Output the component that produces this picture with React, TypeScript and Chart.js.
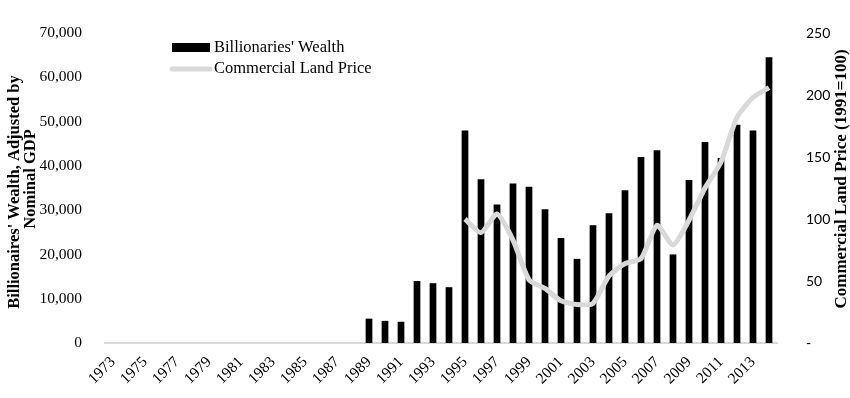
import React, { useEffect, useRef } from "react";
import { Chart, registerables } from "chart.js";

Chart.register(...registerables);

const years: string[] = [];
for (let y = 1973; y <= 2014; y++) years.push(String(y));

// Billionaires' wealth (adjusted by nominal GDP), 1973-2014
const wealth: (number | null)[] = [
  0, 0, 0, 0, 0, 0, 0, 0, 0, 0, 0, 0, 0, 0, 0, 0,
  5500, 5000, 4800, 14000, 13500, 12600,
  48000, 37000, 31300, 36000, 35300, 30200, 23700, 19000, 26600, 29300,
  34500, 42000, 43500, 20000, 36800, 45400, 41800, 49300, 48000, 64500,
];

// Commercial land price (1991 = 100), 1995-2014
const landPrice: (number | null)[] = [
  null, null, null, null, null, null, null, null, null, null, null,
  null, null, null, null, null, null, null, null, null, null, null,
  100, 89, 104, 83, 51, 44, 34, 31, 32, 54,
  64, 68, 95, 79, 99, 125, 146, 182, 198, 206,
];

const leftTitle = ["Billionaires' Wealth, Adjusted by", "Nominal GDP"];
const rightTitle = "Commercial Land Price (1991=100)";
const legendLabels = ["Billionaries' Wealth", "Commercial Land Price"];

const SERIF = "'Liberation Serif', 'DejaVu Serif', serif";

export default function App() {
  const ref = useRef<HTMLCanvasElement | null>(null);

  useEffect(() => {
    if (!ref.current) return;
    const decorPlugin = {
      id: "decor",
      afterDraw(chart: any) {
        const ctx = chart.ctx;
        ctx.save();
        // legend
        ctx.fillStyle = "#000";
        ctx.fillRect(172, 43, 38, 9);
        ctx.strokeStyle = "#d9d9d9";
        ctx.lineWidth = 5;
        ctx.lineCap = "round";
        ctx.beginPath();
        ctx.moveTo(172, 69);
        ctx.lineTo(210, 69);
        ctx.stroke();
        ctx.fillStyle = "#000";
        ctx.font = `16.5px ${SERIF}`;
        ctx.textBaseline = "middle";
        ctx.textAlign = "left";
        ctx.fillText(legendLabels[0], 214, 48);
        ctx.fillText(legendLabels[1], 214, 69);
        // axis titles
        ctx.font = `bold 16.5px ${SERIF}`;
        ctx.textAlign = "center";
        ctx.textBaseline = "middle";
        ctx.save();
        ctx.translate(15, 192);
        ctx.rotate(-Math.PI / 2);
        ctx.fillText(leftTitle[0], 0, 0);
        ctx.restore();
        ctx.save();
        ctx.translate(31, 179);
        ctx.rotate(-Math.PI / 2);
        ctx.fillText(leftTitle[1], 0, 0);
        ctx.restore();
        ctx.save();
        ctx.font = `bold 17px ${SERIF}`;
        ctx.translate(842, 179);
        ctx.rotate(-Math.PI / 2);
        ctx.fillText(rightTitle, 0, 0);
        ctx.restore();
        ctx.restore();
      },
    };

    const chart = new Chart(ref.current, {
      type: "bar",
      data: {
        labels: years,
        datasets: [
          {
            type: "line",
            label: legendLabels[1],
            data: landPrice,
            borderColor: "#d9d9d9",
            backgroundColor: "#d9d9d9",
            borderWidth: 5,
            pointRadius: 0,
            tension: 0.2,
            yAxisID: "y2",
            order: 0,
          } as any,
          {
            type: "bar",
            label: legendLabels[0],
            data: wealth,
            backgroundColor: "#000",
            barPercentage: 0.42,
            categoryPercentage: 1,
            yAxisID: "y",
            order: 1,
          },
        ],
      },
      options: {
        animation: false,
        responsive: false,
        maintainAspectRatio: false,
        layout: { padding: { top: 33, left: 0, right: 0, bottom: 0 } },
        plugins: {
          legend: { display: false },
          tooltip: { enabled: false },
        },
        scales: {
          x: {
            grid: { display: false },
            border: { display: true, color: "#d9d9d9", width: 2 },
            ticks: {
              autoSkip: false,
              maxRotation: 45,
              minRotation: 45,
              padding: 2,
              color: "#000",
              font: { family: SERIF, size: 15.5 },
              callback: (_v: any, i: number) => (i % 2 === 0 ? years[i] : ""),
            },
            afterFit: (s: any) => {
              s.height = 55;
            },
          },
          y: {
            position: "left",
            min: 0,
            max: 70000,
            grid: { display: false },
            border: { display: false },
            ticks: {
              stepSize: 10000,
              padding: 15,
              color: "#000",
              font: { family: SERIF, size: 15.5 },
              callback: (v: any) => Number(v).toLocaleString("en-US"),
            },
            afterFit: (s: any) => {
              s.width = 105;
            },
          },
          y2: {
            position: "right",
            min: 0,
            max: 250,
            grid: { display: false },
            border: { display: false },
            ticks: {
              stepSize: 50,
              padding: 21,
              color: "#000",
              font: { family: "Lato, 'Liberation Sans', sans-serif", size: 14 },
              callback: (v: any) => (Number(v) === 0 ? "-" : String(v)),
            },
            afterFit: (s: any) => {
              s.width = 73;
            },
          },
        },
      } as any,
      plugins: [decorPlugin],
    });
    return () => chart.destroy();
  }, []);

  return (
    <div style={{ position: "fixed", left: 0, top: 0, width: 850, height: 398, background: "#fff" }}>
      <canvas ref={ref} width={850} height={398} style={{ width: 850, height: 398 }} />
    </div>
  );
}
